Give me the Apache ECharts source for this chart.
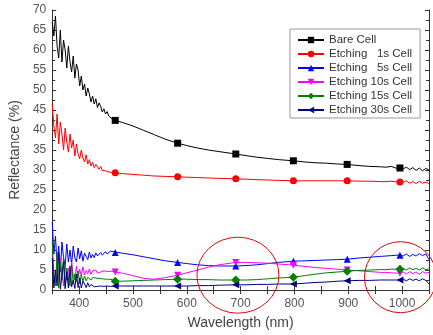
<!DOCTYPE html>
<html>
<head>
<meta charset="utf-8">
<script src="https://cdn.jsdelivr.net/npm/echarts@6/dist/echarts.min.js"></script>
<style>
  html, body { margin: 0; padding: 0; background: #fff; }
  #chart { width: 433px; height: 335px; }
</style>
</head>
<body>
<div id="chart"></div>
<script>
// wavelength grid (nm), dense in the noisy UV part
const wavelengths = [
  350, 353, 356, 359, 362, 365, 368, 371, 374, 377, 380, 383, 386, 389, 392, 395, 398, 401, 404, 407,
  410, 413, 416, 419, 422, 425, 428, 431, 434, 437, 440, 443, 446, 449, 452, 455, 458, 461, 464, 467,
  480, 500, 520, 540, 560, 583, 600, 620, 640, 660, 691, 710, 730, 750, 770, 798, 820, 840, 860, 880,
  898, 920, 940, 960, 970, 980, 990, 996, 1002, 1008, 1014, 1020, 1026, 1032, 1038, 1044, 1050
];
const markerWavelengths = [467, 583, 691, 798, 898, 996];

const bareCell = [
  67, 63.5, 68.5, 61, 58, 65, 57, 62.5, 60, 55.5, 61, 57, 54.5, 58.5, 53, 56.5, 55, 51, 53.5, 50,
  51.5, 48.5, 50.5, 49, 47, 48.5, 46.5, 47.8, 45.6, 46.8, 45.9, 44.5, 45.3, 44.0, 44.6, 43.5, 43.9, 42.8, 43.2, 42.4,
  41.9, 41.0, 39.9, 38.8, 37.7, 36.7, 36.1, 35.5, 35.0, 34.6, 34.0, 33.6, 33.2, 32.9, 32.6, 32.3, 32.0, 31.8, 31.7, 31.5,
  31.4, 31.1, 30.9, 30.8, 30.7, 30.9, 30.4, 30.5, 30.3, 30.7, 30.1, 30.6, 29.9, 30.5, 29.8, 30.4, 30.0
];
const etching1s = [
  46.5, 41, 38, 44, 36.5, 42, 39, 35, 40.5, 37, 34.5, 39, 35.5, 37.5, 33.5, 36.5, 34, 32.8, 35, 33,
  32, 33.8, 31.5, 32.6, 31, 31.9, 30.6, 31.4, 30.9, 30.2, 30.9, 29.9, 30.4, 29.8, 30.2, 29.5, 29.9, 29.4, 29.6, 29.3,
  29.1, 28.9, 28.7, 28.5, 28.4, 28.3, 28.2, 28.1, 28.0, 27.9, 27.8, 27.7, 27.6, 27.5, 27.4, 27.3, 27.3, 27.3, 27.3, 27.3,
  27.3, 27.2, 27.2, 27.1, 27.1, 27.2, 27.0, 27.0, 26.9, 27.3, 26.7, 27.1, 26.6, 27.2, 26.7, 27.0, 26.6
];
const etching5s = [
  17, 9, 13.5, 6, 11, 4.5, 12, 8, 6, 11.5, 7, 10, 6.5, 11, 8, 7, 10.5, 7.8, 9.8, 7.2,
  9.2, 8.4, 7.6, 9.5, 8, 8.9, 8.1, 9.3, 8.5, 8.8, 9.4, 8.7, 9.2, 9.6, 9.0, 9.5, 9.7, 9.3, 9.6, 9.4,
  9.2, 8.8, 8.3, 7.8, 7.3, 6.9, 6.6, 6.3, 6.1, 6.0, 6.0, 6.1, 6.3, 6.6, 6.9, 7.2, 7.3, 7.4, 7.5, 7.6,
  7.7, 8.0, 8.2, 8.4, 8.5, 8.6, 8.7, 8.7, 8.5, 9.0, 8.4, 8.9, 8.5, 9.1, 8.6, 9.0, 7.6
];
const etching10s = [
  9, 3, 1.5, 7.5, 2, 8, 4, 1, 6.5, 2.5, 5.5, 1.8, 7, 3.5, 2.5, 6, 3, 5.2, 3.5, 5.8,
  3.8, 4.9, 4.1, 5.3, 3.9, 4.8, 4.3, 5.0, 4.2, 4.7, 4.5, 4.3, 4.8, 4.4, 4.6, 4.3, 4.7, 4.5, 4.6, 4.5,
  4.2, 3.6, 2.9, 2.7, 3.1, 3.7, 4.3, 5.0, 5.7, 6.3, 6.9, 6.9, 6.8, 6.7, 6.5, 6.2, 5.9, 5.6, 5.4, 5.2,
  5.0, 4.8, 4.6, 4.4, 4.4, 4.3, 4.2, 4.2, 4.5, 4.0, 4.6, 4.1, 4.5, 3.9, 4.6, 4.2, 4.4
];
const etching15s = [
  12, 4, 1, 9.5, 0.5, 7, 2.5, 8.5, 0.8, 5.5, 3, 1, 6.5, 1.5, 4, 2, 4.8, 1.6, 3.8, 2.2,
  3.5, 2.3, 3.2, 2.9, 2.5, 3.1, 2.6, 3.0, 2.7, 2.9, 2.6, 2.8, 2.6, 2.7, 2.5, 2.7, 2.4, 2.6, 2.5, 2.2,
  2.2, 2.3, 2.4, 2.5, 2.6, 2.7, 2.7, 2.6, 2.6, 2.5, 2.5, 2.5, 2.6, 2.8, 3.0, 3.2, 3.6, 4.0, 4.3, 4.5,
  4.7, 4.9, 5.0, 5.1, 5.1, 5.2, 5.2, 5.2, 5.4, 5.0, 5.5, 5.1, 5.4, 5.0, 5.5, 5.1, 5.3
];
const etching30s = [
  8, 0.5, 5, 1, 9.5, 0.2, 3.5, 7, 0.3, 4.5, 0.5, 6, 0.8, 2.5, 0.4, 4, 0.6, 3, 0.5, 2.2,
  1.5, 0.6, 1.8, 0.8, 1.4, 1.0, 0.8, 1.3, 0.9, 1.2, 1.0, 1.1, 0.9, 1.2, 1.0, 1.1, 0.9, 1.1, 1.0, 1.0,
  1.0, 1.0, 1.0, 1.0, 1.0, 1.0, 1.0, 1.1, 1.1, 1.2, 1.3, 1.3, 1.4, 1.4, 1.5, 1.5, 1.7, 1.9, 2.0, 2.2,
  2.3, 2.4, 2.4, 2.5, 2.5, 2.5, 2.5, 2.5, 2.7, 2.3, 2.8, 2.4, 2.7, 2.3, 2.8, 2.4, 1.5
];

const seriesNames = ['Bare Cell', 'Etching   1s Cell', 'Etching   5s Cell', 'Etching 10s Cell', 'Etching 15s Cell', 'Etching 30s Cell'];
const seriesValues = [bareCell, etching1s, etching5s, etching10s, etching15s, etching30s];
const seriesColors = ['#000000', '#ff0000', '#0000ff', '#ff00ff', '#008000', '#000080'];
const seriesSymbols = ['rect', 'circle', 'triangle', 'triangle', 'diamond', 'triangle'];
const seriesRotate = [0, 0, 0, 180, 0, 90];

// highlighted regions, in data coordinates
const circleCenters = [[695, 3.7], [997, 3.2]];
const circleRadii = [[41, 38], [36, 35.5]];

const xTickLabels = [400, 500, 600, 700, 800, 900, 1000];

const font = 'Arial, "Liberation Sans", sans-serif';
const axisGray = '#333';

const chart = echarts.init(document.getElementById('chart'));

function buildData(values) {
  return wavelengths.map((w, i) =>
    markerWavelengths.includes(w) ? [w, values[i]] : { value: [w, values[i]], symbol: 'none' }
  );
}

const xCommon = {
  type: 'value',
  min: 350,
  max: 1050,
  interval: 50,
  axisLine: { show: true, lineStyle: { color: axisGray, width: 1 } },
  axisTick: { show: true, inside: true, length: 4, lineStyle: { color: axisGray } },
  splitLine: { show: false }
};
const yCommon = {
  type: 'value',
  min: 0,
  max: 70,
  interval: 5,
  axisLine: { show: true, lineStyle: { color: axisGray, width: 1 } },
  axisTick: { show: true, inside: true, length: 4, lineStyle: { color: axisGray } },
  minorTick: { show: true, splitNumber: 2, length: 3, lineStyle: { color: axisGray } },
  splitLine: { show: false }
};

const option = {
  backgroundColor: '#ffffff',
  animation: false,
  textStyle: { fontFamily: font },
  grid: { left: 49, right: 4, top: 10, bottom: 43 },
  legend: {
    orient: 'vertical',
    left: 290,
    top: 29,
    padding: [5, 8, 2, 7],
    itemWidth: 26,
    itemHeight: 8,
    itemGap: 2,
    backgroundColor: '#fff',
    borderColor: '#999',
    borderWidth: 1,
    borderRadius: 0,
    textStyle: { fontSize: 11.5, color: '#333', lineHeight: 12, fontFamily: font },
    data: seriesNames
  },
  xAxis: [
    Object.assign({}, xCommon, {
      position: 'bottom',
      name: 'Wavelength (nm)',
      nameLocation: 'middle',
      nameGap: 26,
      nameTextStyle: { fontSize: 14, color: '#444', fontFamily: font },
      axisLabel: {
        margin: 8,
        fontSize: 12,
        color: '#555',
        fontFamily: font,
        formatter: v => (xTickLabels.includes(v) ? String(v) : '')
      }
    }),
    Object.assign({}, xCommon, { position: 'top', axisLabel: { show: false } })
  ],
  yAxis: [
    Object.assign({}, yCommon, {
      position: 'left',
      name: 'Reflectance (%)',
      nameLocation: 'middle',
      nameGap: 25,
      nameTextStyle: { fontSize: 14, color: '#444', fontFamily: font },
      axisLabel: { margin: 6, fontSize: 12, color: '#555', fontFamily: font }
    }),
    Object.assign({}, yCommon, { position: 'right', axisLabel: { show: false } })
  ],
  series: seriesNames.map((name, k) => ({
    name: name,
    type: 'line',
    xAxisIndex: 0,
    yAxisIndex: 0,
    data: buildData(seriesValues[k]),
    symbol: seriesSymbols[k],
    symbolRotate: seriesRotate[k],
    symbolSize: k === 4 ? 9 : 7,
    showAllSymbol: true,
    color: seriesColors[k],
    lineStyle: { width: 1, color: seriesColors[k] },
    itemStyle: { color: seriesColors[k] },
    emphasis: { disabled: true },
    z: 2 + k
  }))
};

chart.setOption(option);

const graphics = circleCenters.map((c, i) => {
  const p = chart.convertToPixel({ gridIndex: 0 }, c);
  const [rx, ry] = circleRadii[i];
  return {
    type: 'circle',
    x: p[0],
    y: p[1],
    scaleY: ry / rx,
    shape: { cx: 0, cy: 0, r: rx },
    style: { fill: 'none', stroke: '#e00000', lineWidth: 1 },
    z: 100
  };
});
chart.setOption({ graphic: graphics });
</script>
</body>
</html>
